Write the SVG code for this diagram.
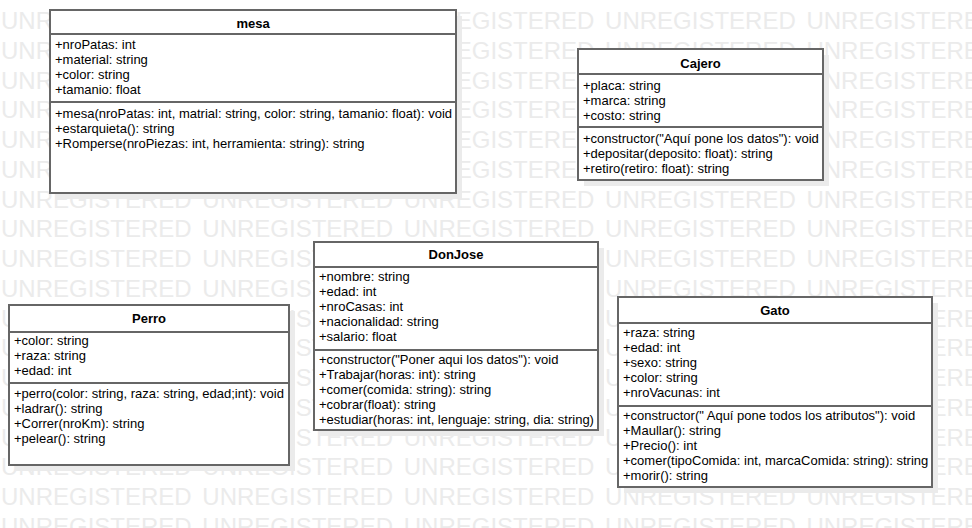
<svg xmlns="http://www.w3.org/2000/svg" width="972" height="528" viewBox="0 0 972 528">
<style>
.wm{font-family:"Liberation Sans",Arial,sans-serif;font-size:24px;fill:#ebebeb;letter-spacing:0;word-spacing:4px}
.box{fill:#ffffff;stroke:#666666;stroke-width:2}
.sh{fill:#ebebeb}
.div{stroke:#666666;stroke-width:2}
.t{font-family:"Liberation Sans",Arial,sans-serif;font-size:13px;fill:#000000}
.h{font-family:"Liberation Sans",Arial,sans-serif;font-size:13px;font-weight:bold;fill:#000000;text-anchor:middle}
</style>
<rect width="972" height="528" fill="#ffffff"/>
<g id="watermark">
<text class="wm" x="1" y="29">UNREGISTERED UNREGISTERED UNREGISTERED UNREGISTERED UNREGISTERED</text>
<text class="wm" x="1" y="58.75">UNREGISTERED UNREGISTERED UNREGISTERED UNREGISTERED UNREGISTERED</text>
<text class="wm" x="1" y="88.5">UNREGISTERED UNREGISTERED UNREGISTERED UNREGISTERED UNREGISTERED</text>
<text class="wm" x="1" y="118.25">UNREGISTERED UNREGISTERED UNREGISTERED UNREGISTERED UNREGISTERED</text>
<text class="wm" x="1" y="148">UNREGISTERED UNREGISTERED UNREGISTERED UNREGISTERED UNREGISTERED</text>
<text class="wm" x="1" y="177.75">UNREGISTERED UNREGISTERED UNREGISTERED UNREGISTERED UNREGISTERED</text>
<text class="wm" x="1" y="207.5">UNREGISTERED UNREGISTERED UNREGISTERED UNREGISTERED UNREGISTERED</text>
<text class="wm" x="1" y="237.25">UNREGISTERED UNREGISTERED UNREGISTERED UNREGISTERED UNREGISTERED</text>
<text class="wm" x="1" y="267">UNREGISTERED UNREGISTERED UNREGISTERED UNREGISTERED UNREGISTERED</text>
<text class="wm" x="1" y="296.75">UNREGISTERED UNREGISTERED UNREGISTERED UNREGISTERED UNREGISTERED</text>
<text class="wm" x="1" y="326.5">UNREGISTERED UNREGISTERED UNREGISTERED UNREGISTERED UNREGISTERED</text>
<text class="wm" x="1" y="356.25">UNREGISTERED UNREGISTERED UNREGISTERED UNREGISTERED UNREGISTERED</text>
<text class="wm" x="1" y="386">UNREGISTERED UNREGISTERED UNREGISTERED UNREGISTERED UNREGISTERED</text>
<text class="wm" x="1" y="415.75">UNREGISTERED UNREGISTERED UNREGISTERED UNREGISTERED UNREGISTERED</text>
<text class="wm" x="1" y="445.5">UNREGISTERED UNREGISTERED UNREGISTERED UNREGISTERED UNREGISTERED</text>
<text class="wm" x="1" y="475.25">UNREGISTERED UNREGISTERED UNREGISTERED UNREGISTERED UNREGISTERED</text>
<text class="wm" x="1" y="505">UNREGISTERED UNREGISTERED UNREGISTERED UNREGISTERED UNREGISTERED</text>
<text class="wm" x="1" y="534.75">UNREGISTERED UNREGISTERED UNREGISTERED UNREGISTERED UNREGISTERED</text>
</g>
<g id="connectors"></g>
<g id="mesa">
<rect class="sh" x="56" y="16" width="406" height="183"/>
<rect class="box" x="50" y="10" width="406" height="183"/>
<line class="div" x1="50" y1="34" x2="456" y2="34"/>
<line class="div" x1="50" y1="102" x2="456" y2="102"/>
<text class="h" x="253" y="28">mesa</text>
<text class="t" x="55" y="49">+nroPatas: int</text>
<text class="t" x="55" y="64">+material: string</text>
<text class="t" x="55" y="79">+color: string</text>
<text class="t" x="55" y="94">+tamanio: float</text>
<text class="t" x="55" y="118">+mesa(nroPatas: int, matrial: string, color: string, tamanio: float): void</text>
<text class="t" x="55" y="133">+estarquieta(): string</text>
<text class="t" x="55" y="148">+Romperse(nroPiezas: int, herramienta: string): string</text>
</g>
<g id="Cajero">
<rect class="sh" x="584" y="55" width="245" height="131"/>
<rect class="box" x="578" y="49" width="245" height="131"/>
<line class="div" x1="578" y1="74" x2="823" y2="74"/>
<line class="div" x1="578" y1="127" x2="823" y2="127"/>
<text class="h" x="700.5" y="68">Cajero</text>
<text class="t" x="583" y="90">+placa: string</text>
<text class="t" x="583" y="105">+marca: string</text>
<text class="t" x="583" y="120">+costo: string</text>
<text class="t" x="583" y="143">+constructor("Aquí pone los datos"): void</text>
<text class="t" x="583" y="158">+depositar(deposito: float): string</text>
<text class="t" x="583" y="173">+retiro(retiro: float): string</text>
</g>
<g id="DonJose">
<rect class="sh" x="320" y="248" width="284" height="188"/>
<rect class="box" x="314" y="242" width="284" height="188"/>
<line class="div" x1="314" y1="267" x2="598" y2="267"/>
<line class="div" x1="314" y1="350" x2="598" y2="350"/>
<text class="h" x="456" y="259">DonJose</text>
<text class="t" x="319" y="281">+nombre: string</text>
<text class="t" x="319" y="296">+edad: int</text>
<text class="t" x="319" y="311">+nroCasas: int</text>
<text class="t" x="319" y="326">+nacionalidad: string</text>
<text class="t" x="319" y="341">+salario: float</text>
<text class="t" x="319" y="364">+constructor("Poner aqui los datos"): void</text>
<text class="t" x="319" y="379">+Trabajar(horas: int): string</text>
<text class="t" x="319" y="394">+comer(comida: string): string</text>
<text class="t" x="319" y="409">+cobrar(float): string</text>
<text class="t" x="319" y="424">+estudiar(horas: int, lenguaje: string, dia: string)</text>
</g>
<g id="Perro">
<rect class="sh" x="15" y="311" width="280" height="160"/>
<rect class="box" x="9" y="305" width="280" height="160"/>
<line class="div" x1="9" y1="332" x2="289" y2="332"/>
<line class="div" x1="9" y1="383" x2="289" y2="383"/>
<text class="h" x="149" y="323">Perro</text>
<text class="t" x="14" y="345">+color: string</text>
<text class="t" x="14" y="360">+raza: string</text>
<text class="t" x="14" y="375">+edad: int</text>
<text class="t" x="14" y="398">+perro(color: string, raza: string, edad;int): void</text>
<text class="t" x="14" y="413">+ladrar(): string</text>
<text class="t" x="14" y="428">+Correr(nroKm): string</text>
<text class="t" x="14" y="443">+pelear(): string</text>
</g>
<g id="Gato">
<rect class="sh" x="624" y="303" width="314" height="190"/>
<rect class="box" x="618" y="297" width="314" height="190"/>
<line class="div" x1="618" y1="323" x2="932" y2="323"/>
<line class="div" x1="618" y1="406" x2="932" y2="406"/>
<text class="h" x="775" y="315">Gato</text>
<text class="t" x="623" y="337">+raza: string</text>
<text class="t" x="623" y="352">+edad: int</text>
<text class="t" x="623" y="367">+sexo: string</text>
<text class="t" x="623" y="382">+color: string</text>
<text class="t" x="623" y="397">+nroVacunas: int</text>
<text class="t" x="623" y="420">+constructor(" Aquí pone todos los atributos"): void</text>
<text class="t" x="623" y="435">+Maullar(): string</text>
<text class="t" x="623" y="450">+Precio(): int</text>
<text class="t" x="623" y="465">+comer(tipoComida: int, marcaComida: string): string</text>
<text class="t" x="623" y="480">+morir(): string</text>
</g>
</svg>
